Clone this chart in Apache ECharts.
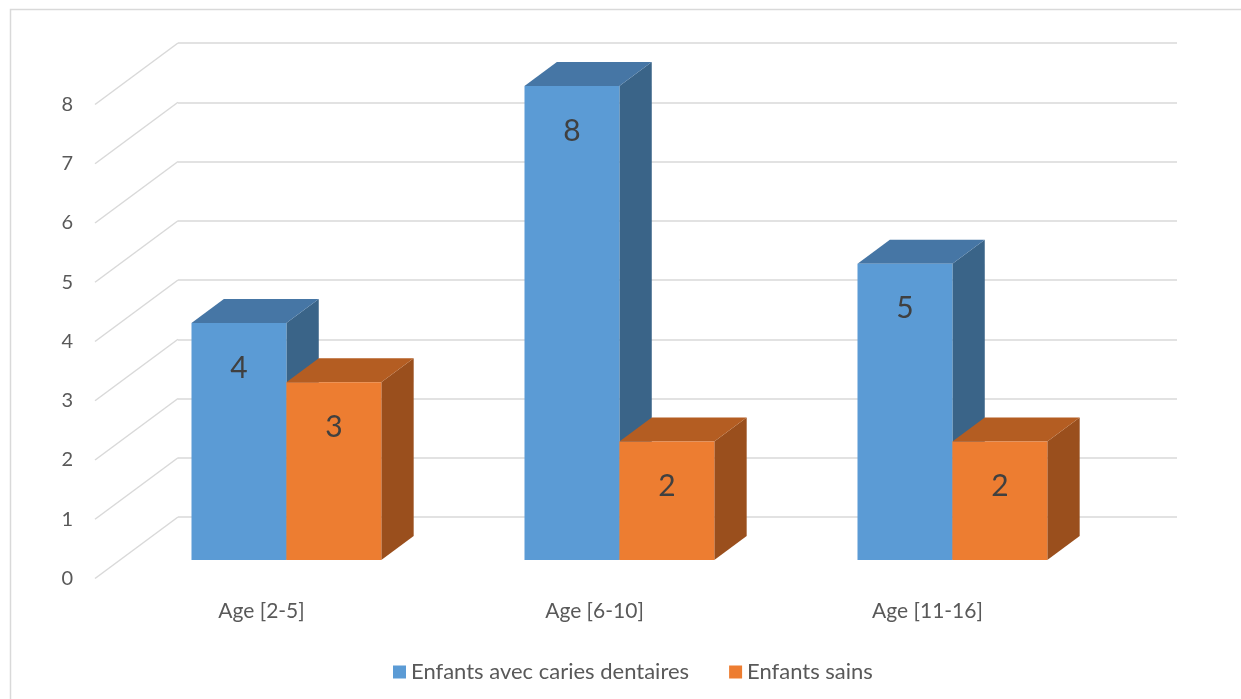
<!DOCTYPE html>
<html><head><meta charset="utf-8">
<script src="https://cdn.jsdelivr.net/npm/echarts@6/dist/echarts.min.js"></script>
<style>html,body{margin:0;padding:0;background:#fff}#c{width:1241px;height:699px}</style>
</head><body><div id="c"></div>
<script>
// ---- data ----
const categories = ['Age [2-5]', 'Age [6-10]', 'Age [11-16]'];
const seriesNames = ['Enfants avec caries dentaires', 'Enfants sains'];
const cariesValues = [4, 8, 5];
const sainsValues = [3, 2, 2];
const yTicks = [0, 1, 2, 3, 4, 5, 6, 7, 8];

// ---- perspective layout ----
const BACK = { left: 178, top: 43, width: 999, height: 474 };
const DX = 83, DY = 61.5;          // back wall -> front plane shift
const BAR_PLANE = 0.70;            // fraction of depth where bar fronts sit
const BAR_DEPTH = 0.39;            // bar depth as fraction of depth
function plane(f) {
  return { left: BACK.left - DX * f, top: BACK.top + DY * f, width: BACK.width, height: BACK.height };
}
const GRID_COLOR = '#D9D9D9';
const TEXT_COLOR = '#595959';
const COLORS = [
  { front: '#5B9BD5', top: '#4676A5', side: '#3A6488' },
  { front: '#ED7D31', top: '#B45D22', side: '#9A4F1D' }
];

function barSeries(idx, values) {
  return {
    type: 'custom', name: seriesNames[idx], xAxisIndex: 1, yAxisIndex: 1,
    itemStyle: { color: COLORS[idx].front },
    z: 3 + idx,
    data: values.map((v, i) => [i, v]),
    renderItem: function (params, api) {
      const ci = api.value(0), val = api.value(1);
      const base = api.coord([ci, 0]);
      const top = api.coord([ci, val]);
      const band = api.size([1, 0])[0];
      const bw = band * 0.285;
      const x0 = idx === 0 ? base[0] - bw : base[0];
      const ty = top[1], by = base[1];
      const dx = DX * BAR_DEPTH, dy = DY * BAR_DEPTH;
      const c = COLORS[idx];
      return {
        type: 'group',
        children: [
          { type: 'polygon', shape: { points: [[x0 + bw, ty], [x0 + bw + dx, ty - dy], [x0 + bw + dx, by - dy], [x0 + bw, by]] }, style: { fill: c.side } },
          { type: 'polygon', shape: { points: [[x0, ty], [x0 + bw, ty], [x0 + bw + dx, ty - dy], [x0 + dx, ty - dy]] }, style: { fill: c.top } },
          { type: 'rect', shape: { x: x0, y: ty, width: bw, height: by - ty }, style: { fill: c.front } },
          { type: 'text', style: { text: String(val), x: x0 + bw / 2, y: ty + 45, textAlign: 'center', textVerticalAlign: 'middle', font: '30px Lato', fill: '#404040' } }
        ]
      };
    }
  };
}

const chart = echarts.init(document.getElementById('c'), null, { renderer: 'canvas' });
chart.setOption({
  animation: false,
  backgroundColor: '#ffffff',
  textStyle: { fontFamily: 'Lato' },
  graphic: [{ type: 'rect', left: 8, top: 7, shape: { width: 1240, height: 700 }, style: { fill: 'none', stroke: GRID_COLOR, lineWidth: 1.5 }, silent: true }],
  grid: [
    Object.assign({ containLabel: false }, plane(0)),
    Object.assign({ containLabel: false }, plane(BAR_PLANE)),
    Object.assign({ containLabel: false }, plane(1))
  ],
  xAxis: [
    { gridIndex: 0, type: 'value', min: 0, max: 3, show: false },
    { gridIndex: 1, type: 'category', data: categories, show: false },
    { gridIndex: 2, type: 'category', data: categories, axisLine: { show: false }, axisTick: { show: false },
      axisLabel: { color: TEXT_COLOR, fontSize: 21, margin: 22 } }
  ],
  yAxis: [
    { gridIndex: 0, type: 'value', min: 0, max: 8, interval: 1, axisLabel: { show: false }, axisLine: { show: false }, axisTick: { show: false },
      splitLine: { show: true, lineStyle: { color: GRID_COLOR, width: 1.5 } } },
    { gridIndex: 1, type: 'value', min: 0, max: 8, interval: 1, show: false, splitLine: { show: false } },
    { gridIndex: 2, type: 'value', min: 0, max: 8, interval: 1, axisLine: { show: false }, axisTick: { show: false }, splitLine: { show: false },
      axisLabel: { color: TEXT_COLOR, fontSize: 20, margin: 22 } }
  ],
  legend: {
    data: seriesNames, left: 388, top: 656, icon: 'rect', itemWidth: 13, itemHeight: 13, itemGap: 40,
    textStyle: { color: TEXT_COLOR, fontSize: 22 }
  },
  series: [
    {
      type: 'custom', name: 'diag', xAxisIndex: 0, yAxisIndex: 0, silent: true, z: 1,
      data: yTicks.map(v => [0, v]),
      renderItem: function (params, api) {
        const p = api.coord([0, api.value(1)]);
        return { type: 'line', shape: { x1: p[0], y1: p[1], x2: p[0] - DX, y2: p[1] + DY }, style: { stroke: GRID_COLOR, lineWidth: 1.5 } };
      }
    },
    barSeries(0, cariesValues),
    barSeries(1, sainsValues)
  ]
});
</script></body></html>
